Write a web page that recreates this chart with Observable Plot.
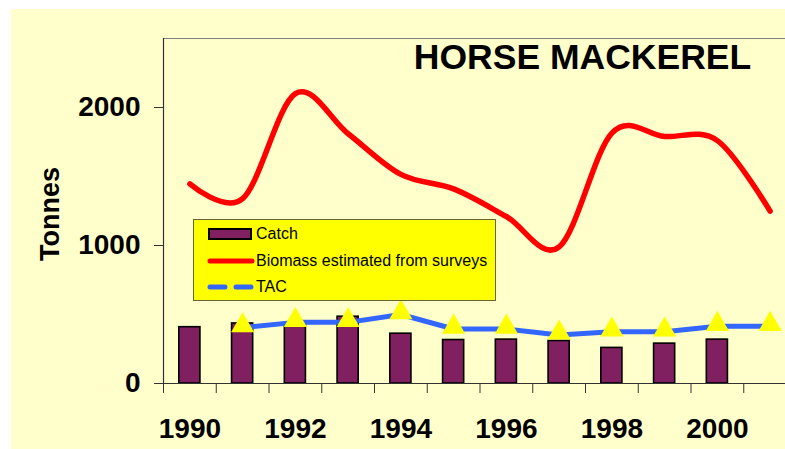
<!DOCTYPE html>
<html>
<head>
<meta charset="utf-8">
<script src="https://cdn.jsdelivr.net/npm/d3@7"></script>
<script src="https://cdn.jsdelivr.net/npm/@observablehq/plot@0.6"></script>
<style>
  body { margin: 0; background: #ffffff; font-family: "Liberation Sans", Arial, sans-serif; }
  #wrap { position: relative; width: 785px; height: 449px; overflow: hidden; }
  #bg { position: absolute; left: 11px; top: 9px; right: 0; bottom: 0; background: #FFFFCC; }
  #chart { position: absolute; left: 0; top: 0; }
  #legend { position: absolute; left: 193px; top: 219px; width: 301px; height: 80px;
            background: #FFFF00; border: 1px solid #666633; }
  .row { position: absolute; left: 0; height: 26px; line-height: 26px; font-size: 16px; color: #000; }
  .row svg { position: absolute; left: 13px; top: 6px; }
  .row span { position: absolute; left: 62px; white-space: nowrap; }
</style>
</head>
<body>
<div id="wrap">
  <div id="bg"></div>
  <div id="chart"></div>
  <div id="legend"></div>
</div>
<script>
const years = [1990, 1991, 1992, 1993, 1994, 1995, 1996, 1997, 1998, 1999, 2000, 2001];
const catchYears = [1990, 1991, 1992, 1993, 1994, 1995, 1996, 1997, 1998, 1999, 2000];
const catchValues = [408, 435, 423, 484, 361, 315, 318, 308, 258, 289, 318];
const biomassValues = [1446, 1340, 2100, 1810, 1515, 1410, 1210, 990, 1815, 1790, 1760, 1249];
const tacYears = [1991, 1992, 1993, 1994, 1995, 1996, 1997, 1998, 1999, 2000, 2001];
const tacValues = [405, 443, 443, 500, 395, 395, 352, 375, 375, 415, 415];
const yTicks = [0, 1000, 2000];
const xLabelTicks = [1990, 1992, 1994, 1996, 1998, 2000];
const seriesNames = ["Catch", "Biomass estimated from surveys", "TAC"];
const title = "HORSE MACKEREL";
const yLabel = "Tonnes";

const catchData = catchYears.map((y, i) => ({year: y, value: catchValues[i]}));
const biomassData = years.map((y, i) => ({year: y, value: biomassValues[i]}));
const tacData = tacYears.map((y, i) => ({year: y, value: tacValues[i]}));
const boundaries = years.map(y => y - 0.5).concat([years[years.length - 1] + 0.5]);

const font = "'Liberation Sans', Arial, sans-serif";

const plot = Plot.plot({
  width: 785,
  height: 449,
  marginLeft: 163,
  marginTop: 38,
  marginBottom: 66,
  marginRight: 0,
  style: {background: "transparent", fontFamily: font, overflow: "hidden"},
  x: {type: "linear", domain: [1989.5, 2001.5], range: [163, 796]},
  y: {domain: [0, 2500], range: [383, 38]},
  marks: [
    Plot.ruleY([2500], {x1: 1989.5, x2: 2001.5, stroke: "#808080", strokeWidth: 1.2}),
    Plot.ruleX([1989.5], {y1: 0, y2: 2500, stroke: "#333333", strokeWidth: 1.2}),
    Plot.axisY({ticks: yTicks, tickSize: 9, tickPadding: 14, fontSize: 28, fontWeight: "bold",
                label: null, stroke: "#333333", fill: "#000", tickFormat: d => String(d)}),
    Plot.axisX({ticks: boundaries, tickSize: 10, tickFormat: () => "", label: null, stroke: "#333333"}),
    Plot.axisX({ticks: xLabelTicks, tickSize: 0, tickPadding: 35, fontSize: 28, fontWeight: "bold",
                label: null, fill: "#000", tickFormat: d => String(d)}),
    Plot.rectY(catchData, {x1: d => d.year - 0.2, x2: d => d.year + 0.2, y: "value",
                           fill: "#802060", stroke: "#000", strokeWidth: 1.6}),
    Plot.ruleY([0], {x1: 1989.5, x2: 2001.5, stroke: "#333333", strokeWidth: 1.2}),
    Plot.line(tacData, {x: "year", y: "value", stroke: "#3366FF", strokeWidth: 5}),
    Plot.dot(tacData, {x: "year", y: "value", symbol: "triangle", r: 8.6, fill: "#FFFF00", stroke: "none", dy: -2}),
    Plot.line(biomassData, {x: "year", y: "value", curve: "cardinal", stroke: "#FF0000",
                            strokeWidth: 5.5, strokeLinecap: "round", strokeLinejoin: "round"}),
    Plot.text([title], {frameAnchor: "top-left", dx: 419, dy: 5, textAnchor: "middle", lineAnchor: "top",
                        fontSize: 35.5, fontWeight: "bold", fill: "#000"}),
    Plot.text([yLabel], {frameAnchor: "left", dx: -113, dy: 3, rotate: -90, textAnchor: "middle",
                         lineAnchor: "middle", fontSize: 27, fontWeight: "bold", fill: "#000"})
  ]
});
document.getElementById("chart").appendChild(plot);

// Legend
const legend = d3.select("#legend");
const rowCenters = [14, 41, 67];
seriesNames.forEach((name, i) => {
  const row = legend.append("div").attr("class", "row").style("top", (rowCenters[i] - 13) + "px").style("width", "300px");
  const sw = row.append("svg").attr("width", 48).attr("height", 14);
  if (i === 0) {
    sw.append("rect").attr("x", 2).attr("y", 2).attr("width", 42).attr("height", 10)
      .attr("fill", "#802060").attr("stroke", "#000").attr("stroke-width", 2);
  } else if (i === 1) {
    sw.append("line").attr("x1", 3).attr("x2", 45).attr("y1", 7).attr("y2", 7)
      .attr("stroke", "#FF0000").attr("stroke-width", 5).attr("stroke-linecap", "round");
  } else {
    sw.append("line").attr("x1", 3).attr("x2", 45).attr("y1", 7).attr("y2", 7)
      .attr("stroke", "#3366FF").attr("stroke-width", 5).attr("stroke-linecap", "round")
      .attr("stroke-dasharray", "15 11");
  }
  row.append("span").text(name);
});
</script>
</body>
</html>
